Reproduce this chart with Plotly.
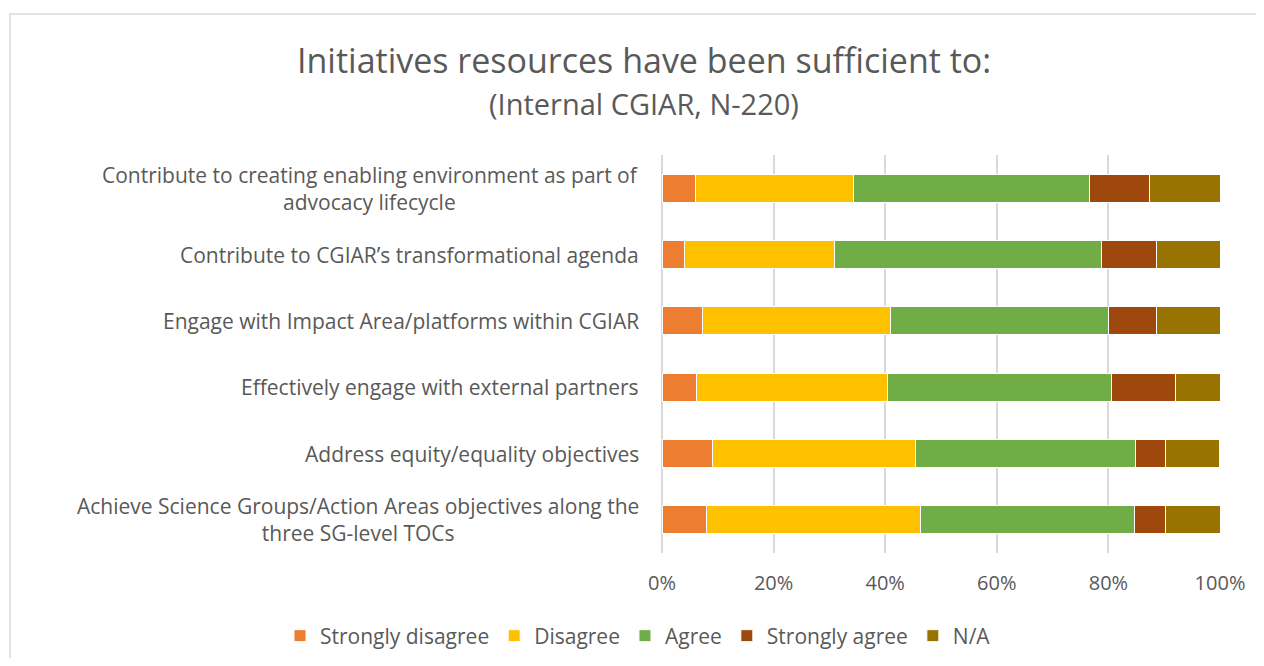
import plotly.graph_objects as go

categories = [
    "Contribute to creating enabling environment as part of<br>advocacy lifecycle",
    "Contribute to CGIAR’s transformational agenda",
    "Engage with Impact Area/platforms within CGIAR",
    "Effectively engage with external partners",
    "Address equity/equality objectives",
    "Achieve Science Groups/Action Areas objectives along the<br>three SG-level TOCs",
]
series_names = ["Strongly disagree", "Disagree", "Agree", "Strongly agree", "N/A"]
strongly_disagree = [6.0, 4.0, 7.3, 6.2, 9.0, 8.0]
disagree = [28.4, 26.9, 33.6, 34.3, 36.4, 38.3]
agree = [42.3, 47.8, 39.2, 40.0, 39.5, 38.4]
strongly_agree = [10.6, 9.9, 8.5, 11.6, 5.3, 5.6]
not_applicable = [12.7, 11.4, 11.4, 7.9, 9.7, 9.7]
colors = ["#ED7D31", "#FFC000", "#70AD47", "#9E480E", "#997300"]
x_ticks = [0, 20, 40, 60, 80, 100]
x_tick_labels = ["0%", "20%", "40%", "60%", "80%", "100%"]

title_text = "Initiatives resources have been sufficient to:"
subtitle_text = "(Internal CGIAR, N-220)"

values = [strongly_disagree, disagree, agree, strongly_agree, not_applicable]

fig = go.Figure()
for name, vals, col in zip(series_names, values, colors):
    fig.add_trace(go.Bar(
        y=categories, x=vals, name=name, orientation="h",
        marker=dict(color=col, line=dict(color="white", width=1)),
        hoverinfo="x+y+name",
    ))

# page body has an 8px margin; figure sized to fit window exactly
OFF = 8
W, H = 1248, 650
PL, PR, PT, PB = 662, 1220, 155, 553  # plot area in window pixels
L, R = PL - OFF, (W + OFF) - PR
T, B = PT - OFF, (H + OFF) - PB
pw, ph = PR - PL, PB - PT


def px_x(x):
    return (x - PL) / pw


def px_y(y):
    return (PB - y) / ph


LABEL_FONT = "Open Sans, sans-serif"
TITLE_FONT = "Open Sans, sans-serif"
GREY = "#595959"
GRID = "#d9d9d9"

annotations = []
for c in categories:
    annotations.append(dict(
        x=0, xref="paper", y=c, yref="y", text=c, showarrow=False,
        xanchor="right", yanchor="middle", align="center", xshift=-21,
        font=dict(family=LABEL_FONT, size=21, color=GREY),
    ))
annotations.append(dict(
    x=px_x(644), xref="paper", y=px_y(60), yref="paper", text=title_text,
    showarrow=False, font=dict(family=TITLE_FONT, size=34, color=GREY),
    xanchor="center", yanchor="middle",
))
annotations.append(dict(
    x=px_x(644), xref="paper", y=px_y(103), yref="paper", text=subtitle_text,
    showarrow=False, font=dict(family=TITLE_FONT, size=29, color=GREY),
    xanchor="center", yanchor="middle",
))

fig.update_layout(
    barmode="stack",
    bargap=0.58,
    width=W, height=H,
    margin=dict(l=L, r=R, t=T, b=B, autoexpand=False),
    paper_bgcolor="white", plot_bgcolor="white",
    font=dict(family=LABEL_FONT, color=GREY, size=21),
    xaxis=dict(
        range=[0, 100], tickvals=x_ticks, ticktext=x_tick_labels,
        showgrid=True, gridcolor=GRID, gridwidth=1.5,
        zeroline=True, zerolinecolor=GRID, zerolinewidth=1.5,
        showline=False, ticks="", tickfont=dict(size=20, color=GREY),
        ticklabelstandoff=16, fixedrange=True,
    ),
    yaxis=dict(
        autorange="reversed", showticklabels=False, showgrid=False,
        zeroline=False, showline=False, ticks="", fixedrange=True,
    ),
    legend=dict(
        orientation="h", xref="paper", x=px_x(280), xanchor="left",
        yref="paper", y=px_y(636), yanchor="middle",
        font=dict(size=21, color=GREY),
        traceorder="normal", itemwidth=30,
    ),
    annotations=annotations,
    shapes=[dict(
        type="rect", xref="paper", yref="paper",
        x0=px_x(10), x1=px_x(1300), y0=px_y(720), y1=px_y(14),
        line=dict(color=GRID, width=1.5), fillcolor="rgba(0,0,0,0)", layer="below",
    )],
)

fig.write_html("out.html")
